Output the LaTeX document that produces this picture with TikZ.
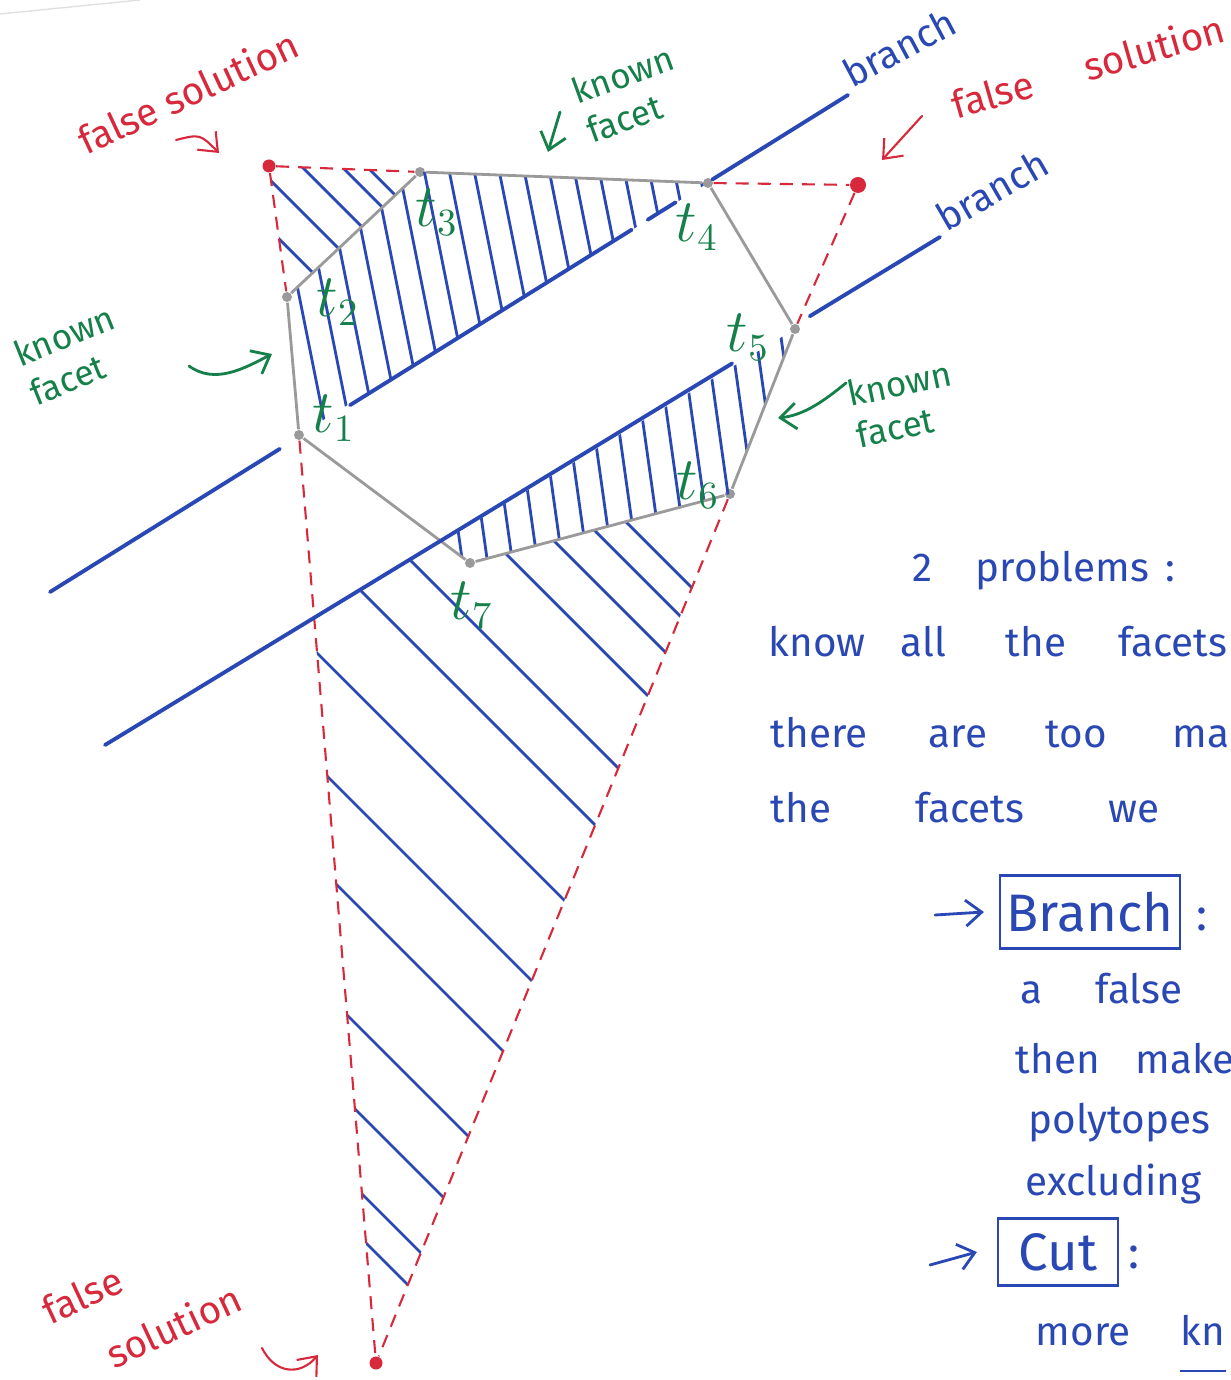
\documentclass[tikz,border=0pt]{standalone}
\usepackage{fontspec}
\setmainfont{Fira Sans}
\usetikzlibrary{arrows.meta,calc}
\definecolor{penblue}{HTML}{2A48B4}
\definecolor{penred}{HTML}{D8283C}
\definecolor{pengreen}{HTML}{16804A}
\definecolor{pencil}{HTML}{9A9A9A}
\begin{document}
\begin{tikzpicture}[x=0.01cm,y=-0.01cm,
  branchline/.style={penblue, line width=1.1pt, line cap=round},
  hatch/.style={penblue, line width=0.8pt, line cap=round},
  facetline/.style={pencil, line width=0.8pt},
  falseline/.style={penred, line width=0.6pt, dash pattern=on 1.3mm off 0.9mm},
  vertex/.style={circle, fill=pencil, inner sep=0pt, minimum size=1mm},
  falsept/.style={circle, fill=penred, inner sep=0pt, minimum size=1.3mm},
  tlabel/.style={pengreen, font=\fontsize{16}{16}\selectfont},
  greennote/.style={pengreen, font=\fontsize{10}{12}\selectfont, align=left},
  rednote/.style={penred, font=\fontsize{11}{13}\selectfont, align=left},
  bluenote/.style={penblue, anchor=base west, inner sep=0pt, font=\fontsize{11.5}{12}\selectfont},
  branchnote/.style={penblue, anchor=base west, inner sep=0pt, font=\fontsize{11}{11}\selectfont},
  boxed/.style={draw=pencil, line width=0.6pt, penblue, inner sep=0pt,
    font=\fontsize{15}{15}\selectfont},
  pointer/.style={-{Straight Barb[length=1.6mm,width=2.6mm]}, line width=0.8pt, line cap=round},
]
\useasboundingbox (0,0) rectangle (1230,1380);
\clip (0,0) rectangle (1230,1380);
\draw[black!12] (0,14) -- (140,0);

% polytope vertices and false solutions
\node[vertex] (t1) at (299,435) {};
\node[vertex] (t2) at (287,297) {};
\node[vertex] (t3) at (420,172) {};
\node[vertex] (t4) at (708,183) {};
\node[vertex] (t5) at (795,329) {};
\node[vertex] (t6) at (730,494) {};
\node[vertex] (t7) at (470,563) {};
\node[falsept] (fs1) at (269,166) {};
\node[falsept, minimum size=1.6mm] (fs2) at (858,185) {};
\node[falsept] (fs3) at (376,1363) {};
\coordinate (pa) at (314,620);
\coordinate (pb) at (442,542);

% hatching
\begin{scope}
  \clip (t1.center) -- (t2.center) -- (t3.center) -- (t4.center) -- cycle;
  \foreach \x in {270,295,...,700}
    \draw[hatch] (\x,150) -- ++(60,300);
\end{scope}
\begin{scope}
  \clip (pb) -- (t7.center) -- (t6.center) -- (t5.center) -- cycle;
  \foreach \x in {430,455,...,780}
    \draw[hatch] (\x,330) -- ++(35,250);
\end{scope}
\begin{scope}
  \clip (fs1.center) -- (t3.center) -- (t2.center) -- cycle;
  \foreach \c in {40,90,135,175,200}
    \draw[hatch] (\c+150,150) -- ++(150,150);
\end{scope}
\begin{scope}
  \clip (pa) -- (pb) -- (t7.center) -- (t6.center) -- (fs3.center) -- cycle;
  \foreach \c in {104,64,13,-48,-150,-230,-336,-449,-548,-668,-754,-832,-877}
    \draw[hatch] (\c+500,500) -- ++(900,900);
\end{scope}

% facets
\draw[facetline] (t1) -- (t2) -- (t3) -- (t4) -- (t5) -- (t6) -- (t7) -- (t1);

% cone of the false solutions
\draw[falseline] (fs1) -- (t3);
\draw[falseline] (fs1) -- (t2);
\draw[falseline] (t1) -- (fs3);
\draw[falseline] (t4) -- (fs2);
\draw[falseline] (fs2) -- (t5);
\draw[falseline] (t6) -- (fs3);

% branch lines
\coordinate (ua) at (50,592);
\coordinate (ub) at (848,95);
\coordinate (la) at (105,745);
\coordinate (lb) at (940,237);
\draw[branchline] (ua) -- ($(ua)!0.288!(ub)$);
\draw[branchline] ($(ua)!0.376!(ub)$) -- ($(ua)!0.729!(ub)$);
\draw[branchline] ($(ua)!0.749!(ub)$) -- ($(ua)!0.784!(ub)$);
\draw[branchline] ($(ua)!0.83!(ub)$) -- (ub);
\draw[branchline] (la) -- ($(la)!0.751!(lb)$);
\draw[branchline] ($(la)!0.844!(lb)$) -- (lb);
\node[branchnote, rotate=28] (brtop) at ($(ub)+(4,-6)$) {branch};
\node[branchnote, rotate=30] (brlow) at ($(lb)+(6,-4)$) {branch};

% vertex labels
\node[tlabel] (lt1) at (334,418) {$t_1$};
\node[tlabel] (lt2) at (338,302) {$t_2$};
\node[tlabel] (lt3) at (437,212) {$t_3$};
\node[tlabel] (lt4) at (697,227) {$t_4$};
\node[tlabel] (lt5) at (748,337) {$t_5$};
\node[tlabel] (lt6) at (698,485) {$t_6$};
\node[tlabel] (lt7) at (472,605) {$t_7$};

% known facet notes
\node[greennote, rotate=22] (kfleft) at (72,355) {known\\facet};
\node[greennote, rotate=20] (kftop) at (630,94) {known\\facet};
\node[greennote, rotate=12] (kfright) at (904,404) {known\\facet};
\coordinate (gla) at (189,366); \coordinate (glb) at (272,354);
\coordinate (gta) at (560,112); \coordinate (gtb) at (548,152);
\coordinate (gra) at (846,383); \coordinate (grb) at (778,418);
\draw[pointer, pengreen] (gla) .. controls (215,385) and (245,368) .. (glb);
\draw[pointer, pengreen] (gta) -- (gtb);
\draw[pointer, pengreen] (gra) .. controls (825,400) and (805,415) .. (grb);

% false solution notes
\node[rednote, rotate=25] (fsleft) at (188,92) {false solution};
\node[rednote, rotate=16] (fsright) at (1088,66) {false\hspace{1.4em}solution};
\node[rednote, rotate=25, font=\fontsize{11}{19}\selectfont] (fsbottom) at (142,1304) {false\\\hspace*{1em}solution};
\coordinate (rla) at (176,140); \coordinate (rlb) at (219,153);
\coordinate (rra) at (922,116); \coordinate (rrb) at (882,160);
\coordinate (rba) at (262,1348); \coordinate (rbb) at (318,1355);
\draw[pointer, penred, line width=0.6pt] (rla) .. controls (200,134) .. (rlb);
\draw[pointer, penred, line width=0.6pt] (rra) -- (rrb);
\draw[pointer, penred, line width=0.6pt] (rba) .. controls (275,1374) and (300,1376) .. (rbb);

% notes, word by word
\foreach \w/\x [count=\i] in {2/912, problems/975, :/1165}
  \node[bluenote] (prob\i) at (\x,582) {\w};
\foreach \w/\x [count=\i] in {know/768, all/900, the/1005, facets/1118}
  \node[bluenote] (know\i) at (\x,657) {\w};
\foreach \w/\x [count=\i] in {there/770, are/928, too/1045, ma/1172}
  \node[bluenote] (many\i) at (\x,748) {\w};
\foreach \w/\x [count=\i] in {the/770, facets/915, we/1108}
  \node[bluenote] (seen\i) at (\x,822) {\w};
\node[boxed, minimum width=1.8cm, minimum height=0.73cm] (branchbox) at (1090,912) {Branch};
\node[bluenote, font=\fontsize{13}{13}\selectfont] (brcolon) at (1196,930) {:};
\coordinate (brtail) at (935,915);
\draw[pointer, penblue] (brtail) -- ([xshift=-1.5mm]branchbox.west);
\foreach \w/\x [count=\i] in {a/1020, false/1095}
  \node[bluenote] (afalse\i) at (\x,1003) {\w};
\foreach \w/\x [count=\i] in {then/1015, make/1135}
  \node[bluenote] (make\i) at (\x,1073) {\w};
\node[bluenote] (poly) at (1028,1133) {polytopes};
\node[bluenote] (excl) at (1025,1195) {excluding};
\node[boxed, minimum width=1.2cm, minimum height=0.67cm] (cutbox) at (1058,1252) {Cut};
\node[bluenote, font=\fontsize{13}{13}\selectfont] (cutcolon) at (1128,1268) {:};
\coordinate (cuttail) at (930,1265);
\draw[pointer, penblue] (cuttail) -- ([xshift=-2mm]cutbox.west);
\node[bluenote] (more) at (1035,1345) {more};
\node[bluenote] (kn) at (1180,1345) {kn};
\draw[penblue, line width=0.8pt] ([yshift=-2.6mm]kn.base west) -- ([yshift=-2.6mm]kn.base east);
\end{tikzpicture}
\end{document}
